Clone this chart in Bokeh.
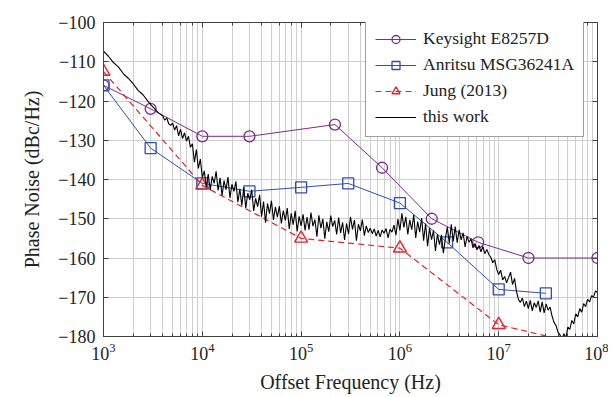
from bokeh.plotting import figure
from bokeh.models import LogAxis, LinearAxis, Legend, LegendItem, CustomJSTickFormatter, FixedTicker
from bokeh.embed import file_html
from bokeh.resources import INLINE

# ---------------- data ----------------
keysight_f = [1e3, 3e3, 1e4, 3e4, 2.2e5, 6.6e5, 2.1e6, 6.2e6, 2e7, 1e8]
keysight_pn = [-116, -122, -129, -129, -126, -137, -150, -156, -160, -160]

anritsu_f = [1e3, 3e3, 1e4, 3e4, 1e5, 3e5, 1e6, 3e6, 1e7, 3e7]
anritsu_pn = [-116, -132, -141, -143, -142, -141, -146, -156, -168, -169]

jung_f = [1e3, 1e4, 1e5, 1e6, 1e7, 1e8]
jung_pn = [-112.5, -141.5, -155, -157.5, -177, -183]

# "this work": log10(offset frequency) and measured phase noise
tw_logf = [
    3.00, 3.05, 3.10, 3.15, 3.20, 3.25, 3.30, 3.35, 3.40, 3.45, 3.50, 3.55,
    3.60, 3.62, 3.64, 3.66, 3.68, 3.70, 3.72, 3.74, 3.76, 3.78, 3.80, 3.82,
    3.84, 3.86, 3.88, 3.90, 3.92, 3.94, 3.96, 3.98, 4.00,
    4.02, 4.04, 4.06, 4.08, 4.10, 4.12, 4.14, 4.16, 4.18, 4.20, 4.22, 4.24,
    4.26, 4.28, 4.30, 4.32, 4.34, 4.36, 4.38, 4.40, 4.42, 4.44, 4.46, 4.48,
    4.50, 4.52, 4.54, 4.56, 4.58, 4.60, 4.62, 4.64, 4.66, 4.68, 4.70, 4.72,
    4.74, 4.76, 4.78, 4.80, 4.82, 4.84, 4.86, 4.88, 4.90, 4.92, 4.94, 4.96,
    4.98, 5.00,
    5.02, 5.04, 5.06, 5.08, 5.10, 5.12, 5.14, 5.16, 5.18, 5.20, 5.22, 5.24,
    5.26, 5.28, 5.30, 5.32, 5.34, 5.36, 5.38, 5.40, 5.42, 5.44, 5.46, 5.48,
    5.50, 5.52, 5.54, 5.56, 5.58, 5.60, 5.62, 5.64, 5.66, 5.68, 5.70, 5.72,
    5.74, 5.76, 5.78, 5.80, 5.82, 5.84, 5.86, 5.88, 5.90, 5.92, 5.94, 5.96,
    5.98, 6.00,
    6.02, 6.04, 6.06, 6.08, 6.10, 6.12, 6.14, 6.16, 6.18, 6.20, 6.22, 6.24,
    6.26, 6.28, 6.30, 6.32, 6.34, 6.36, 6.38, 6.40, 6.42, 6.44, 6.46, 6.48,
    6.50, 6.52, 6.54, 6.56, 6.58, 6.60, 6.62, 6.64, 6.66, 6.68, 6.70, 6.72,
    6.74, 6.76, 6.78, 6.80, 6.82, 6.84, 6.86, 6.88, 6.90,
    6.92, 6.94, 6.96, 6.98, 7.00, 7.02, 7.04, 7.06, 7.08, 7.10, 7.12, 7.14,
    7.16, 7.18, 7.20, 7.22, 7.24, 7.26, 7.28, 7.30, 7.32, 7.34, 7.36, 7.38,
    7.40, 7.42, 7.44, 7.46, 7.48, 7.50, 7.52, 7.54, 7.56, 7.58, 7.60, 7.62,
    7.64, 7.66, 7.68, 7.70, 7.72, 7.74, 7.76, 7.78, 7.80, 7.82, 7.84, 7.86,
    7.88, 7.90, 7.92, 7.94, 7.96, 7.98, 8.00,
]
tw_pn = [
    -107.3, -108.6, -110.2, -111.3, -113.0, -114.2, -115.6, -117.3, -118.4, -120.1, -121.5, -122.9,
    -123.8, -124.9, -124.3, -125.8, -126.2, -125.6, -127.4, -126.3, -128.9, -127.2, -129.6, -128.1,
    -130.2, -129.0, -131.8, -130.9, -135.6, -132.4, -137.2, -134.8, -139.5,
    -137.8, -141.9, -138.6, -142.7, -139.2, -141.0, -137.9, -142.8, -139.6, -144.1, -140.3, -142.6,
    -139.4, -144.7, -141.2, -143.0, -140.5, -145.8, -142.4, -146.6, -142.0, -147.3, -143.5, -145.2,
    -142.6, -148.0, -144.8, -146.9, -143.9, -149.5, -145.6, -151.0, -146.1, -148.7, -145.4, -150.3,
    -147.0, -149.6, -146.8, -151.2, -147.9, -150.4, -147.3, -152.6, -148.6, -151.5, -148.0, -153.2,
    -149.4, -151.8,
    -148.9, -153.0, -149.6, -152.8, -148.4, -151.9, -150.2, -154.6, -149.1, -152.4, -150.0, -155.1,
    -150.8, -153.3, -149.2, -152.0, -150.4, -154.0, -149.7, -153.6, -150.9, -155.4, -151.2, -153.9,
    -149.5, -152.7, -150.3, -155.6, -151.4, -153.1, -150.2, -154.3, -151.8, -153.5, -152.4, -153.8,
    -152.6, -154.4, -153.0, -154.6, -152.9, -153.7, -152.5, -154.9, -152.7, -153.4, -151.6, -154.2,
    -150.1, -153.0,
    -148.6, -152.2, -149.5, -154.0, -150.3, -152.8, -149.0, -154.9, -150.7, -153.4, -149.8, -155.6,
    -151.2, -157.0, -152.4, -155.3, -153.0, -158.2, -153.9, -156.6, -154.1, -158.8, -155.0, -152.1,
    -156.3, -151.4, -155.7, -152.0, -156.1, -152.8, -155.4, -153.6, -157.2, -154.5, -156.0, -155.1,
    -157.4, -156.3, -157.9, -156.8, -158.4, -157.1, -158.9, -157.8, -159.1,
    -159.8, -161.2, -160.4, -162.9, -164.2, -163.1, -165.6, -164.7, -166.3, -165.0, -163.6, -166.8,
    -165.2, -168.5, -170.6, -171.3, -170.2, -172.4, -171.0, -172.9, -170.8, -173.5, -171.4, -172.6,
    -170.9, -173.8, -171.2, -174.0, -171.7, -173.3, -172.5, -174.8, -176.4, -177.2, -178.9, -179.6,
    -180.6, -179.3, -180.4, -177.6, -178.2, -175.9, -176.8, -174.2, -175.0, -172.9, -173.8, -171.6,
    -172.4, -170.5, -171.2, -169.6, -169.9, -168.4, -168.8,
]
tw_f = [10 ** e for e in tw_logf]

y_ticks = [-180, -170, -160, -150, -140, -130, -120, -110, -100]
y_tick_labels = ["\u2212180", "\u2212170", "\u2212160", "\u2212150", "\u2212140",
                 "\u2212130", "\u2212120", "\u2212110", "\u2212100"]

# ---------------- styling ----------------
FONT = "Liberation Serif"
PURPLE = "#7E2A8E"
BLUE = "#2F4FAE"
RED = "#EC2028"
GRID = "#cfcfcf"
AXIS = "#404040"
TEXT = "#222222"

p = figure(width=608, height=395, x_axis_type="log",
           x_range=(1e3, 1e8), y_range=(-180, -100),
           output_backend="svg", toolbar_location=None,
           min_border_left=103, min_border_right=11,
           min_border_top=22, min_border_bottom=58)

p.outline_line_color = AXIS
p.outline_line_width = 1
p.background_fill_color = "white"

# grids
p.xgrid.grid_line_color = GRID
p.xgrid.minor_grid_line_color = GRID
p.xgrid.minor_grid_line_width = 1
p.ygrid.grid_line_color = GRID
p.ygrid.ticker = FixedTicker(ticks=y_ticks)

# bottom axis
xb = p.below[0]
xb.axis_label = "Offset Frequency (Hz)"
xb.axis_label_text_font = FONT
xb.axis_label_text_font_size = "20px"
xb.axis_label_text_font_style = "normal"
xb.axis_label_text_color = TEXT
xb.major_label_text_font = FONT
xb.major_label_text_font_size = "18px"
xb.major_label_text_color = TEXT
xb.major_tick_in = 5
xb.major_tick_out = 0
xb.minor_tick_in = 3
xb.minor_tick_out = 0
xb.major_tick_line_color = AXIS
xb.minor_tick_line_color = AXIS
xb.axis_line_color = AXIS
xb.major_label_standoff = 6
xb.axis_label_standoff = 8

# left axis
yl = p.left[0]
yl.ticker = FixedTicker(ticks=y_ticks)
yl.major_label_overrides = dict(zip(y_ticks, y_tick_labels))
yl.axis_label = "Phase Noise (dBc/Hz)"
yl.axis_label_text_font = FONT
yl.axis_label_text_font_size = "20px"
yl.axis_label_text_font_style = "normal"
yl.axis_label_text_color = TEXT
yl.major_label_text_font = FONT
yl.major_label_text_font_size = "18px"
yl.major_label_text_color = TEXT
yl.major_tick_in = 5
yl.major_tick_out = 0
yl.minor_tick_line_color = None
yl.major_tick_line_color = AXIS
yl.axis_line_color = AXIS
yl.major_label_standoff = 8
yl.axis_label_standoff = 12

# mirrored tick axes (no labels)
empty = CustomJSTickFormatter(code="return ''")
xa = LogAxis(formatter=empty, major_tick_in=5, major_tick_out=0,
             minor_tick_in=3, minor_tick_out=0, axis_line_color=AXIS,
             major_tick_line_color=AXIS, minor_tick_line_color=AXIS,
             major_label_standoff=0)
p.add_layout(xa, "above")
yr = LinearAxis(formatter=empty, ticker=FixedTicker(ticks=y_ticks),
                major_tick_in=5, major_tick_out=0, minor_tick_line_color=None,
                axis_line_color=AXIS, major_tick_line_color=AXIS,
                major_label_standoff=0)
p.add_layout(yr, "right")

# ---------------- series ----------------
k_line = p.line(keysight_f, keysight_pn, line_color=PURPLE, line_width=1)
k_mark = p.scatter(keysight_f, keysight_pn, marker="circle", size=11,
                   line_color=PURPLE, line_width=1.3, fill_color=None)

a_line = p.line(anritsu_f, anritsu_pn, line_color=BLUE, line_width=1)
a_mark = p.scatter(anritsu_f, anritsu_pn, marker="square", size=11,
                   line_color=BLUE, line_width=1.3, fill_color=None)

j_line = p.line(jung_f, jung_pn, line_color=RED, line_width=1.2, line_dash="6 4")
j_mark = p.scatter(jung_f, jung_pn, marker="triangle", size=13,
                   line_color=RED, line_width=1.4, fill_color=None)

t_line = p.line(tw_f, tw_pn, line_color="black", line_width=1.1)

legend = Legend(items=[
    LegendItem(label="Keysight E8257D", renderers=[k_line, k_mark]),
    LegendItem(label="Anritsu MSG36241A", renderers=[a_line, a_mark]),
    LegendItem(label="Jung (2013)", renderers=[j_line, j_mark]),
    LegendItem(label="this work", renderers=[t_line]),
], location=(262, 199))
legend.label_text_font = FONT
legend.label_text_font_size = "17.5px"
legend.label_text_color = TEXT
legend.label_height = 20
legend.glyph_height = 20
legend.glyph_width = 41
legend.spacing = 5
legend.padding = 9
legend.margin = 0
legend.label_standoff = 7
legend.border_line_color = AXIS
legend.border_line_width = 1
legend.background_fill_alpha = 1
p.add_layout(legend, "center")

open("out.html", "w").write(file_html(p, INLINE))
